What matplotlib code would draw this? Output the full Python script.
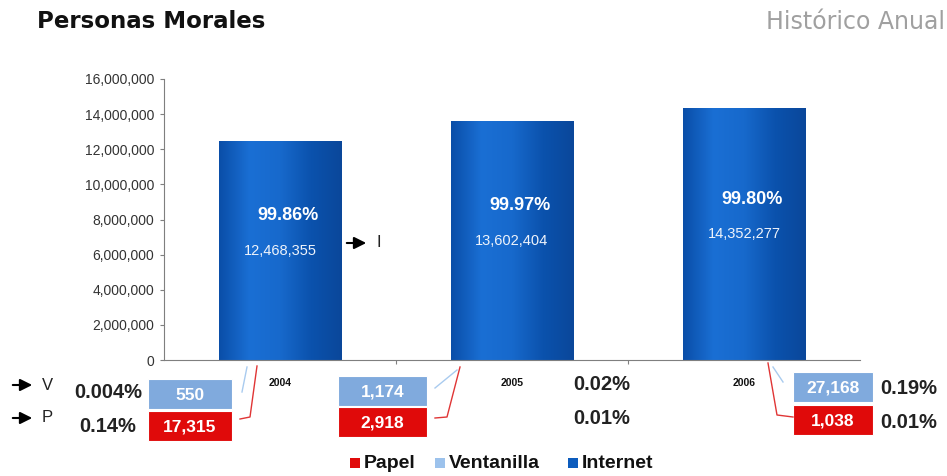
import numpy as np
import matplotlib
matplotlib.use('Agg')
import matplotlib.pyplot as plt
from matplotlib.patches import Rectangle, FancyArrowPatch
from matplotlib.colors import LinearSegmentedColormap
from matplotlib.lines import Line2D
from matplotlib.ticker import FuncFormatter

plt.rcParams['font.family'] = ['Liberation Sans', 'DejaVu Sans']

# datos por año
years = ['2004', '2005', '2006']
internet = [12468355, 13602404, 14352277]
ventanilla = [550, 1174, 27168]
papel = [17315, 2918, 1038]
pct_internet = ['99.86%', '99.97%', '99.80%']
pct_ventanilla = ['0.004%', '0.02%', '0.19%']
pct_papel = ['0.14%', '0.01%', '0.01%']

W, H = 947, 476
fig = plt.figure(figsize=(W / 100, H / 100), dpi=100)
fig.patch.set_facecolor('white')

def px(x, y):
    # pixeles (origen arriba a la izquierda) -> fraccion de figura
    return x / W, 1 - y / H

ax = fig.add_axes([164 / W, 1 - 360 / H, (860 - 164) / W, (360 - 79) / H])
x = np.arange(len(years))

# barras con degradado horizontal
blues = LinearSegmentedColormap.from_list('az', ['#0a4ea8', '#1a6fd4', '#1769cc', '#0b52ad', '#0a479a'])
grad = np.linspace(0, 1, 256).reshape(1, -1)
bars = ax.bar(x, internet, width=0.53, color='#0d5cbd', edgecolor='#6f9fdc', linewidth=0.6, zorder=2)
for b in bars:
    img = ax.imshow(grad, cmap=blues, aspect='auto', zorder=2.5,
                    extent=[b.get_x(), b.get_x() + b.get_width(), 0, b.get_height()])
    img.set_clip_path(b)
ax.set_xlim(-0.5, len(years) - 0.5)
ax.set_ylim(0, 16000000)

for i, b in enumerate(bars):
    cx = b.get_x() + b.get_width() / 2
    ax.annotate(f'{internet[i]:,}', (cx, internet[i] / 2), ha='center', va='center',
                color='#eef3fb', fontsize=10.5, zorder=4)
    ax.annotate(pct_internet[i], (cx, internet[i] / 2), xytext=(6, 25), textcoords='offset points',
                ha='center', va='center', color='white', fontsize=13, fontweight='bold', zorder=4)

# ejes
for s in ['top', 'right']:
    ax.spines[s].set_visible(False)
for s in ['left', 'bottom']:
    ax.spines[s].set_color('#7f7f7f')
    ax.spines[s].set_linewidth(0.8)
ax.set_yticks(np.arange(0, 16000001, 2000000))
ax.yaxis.set_major_formatter(FuncFormatter(lambda v, p: f'{int(v):,}'))
ax.tick_params(axis='y', labelsize=10, colors='#7f7f7f', labelcolor='#333333', length=3, width=0.8, pad=4)
ax.set_xticks(x)
ax.set_xticklabels(years, fontsize=7.5, fontweight='bold', color='#111111')
ax.tick_params(axis='x', length=0, pad=13)
ax.set_xticks([0.5, 1.5], minor=True)
ax.tick_params(axis='x', which='minor', length=3, width=0.8, color='#7f7f7f')

# cajas de ventanilla y papel
box_x = [148, 338, 793]
box_w = [84, 89, 80]
v_top = [379, 376, 372]
p_top = [411, 407, 405]
box_h = 30
for i in range(len(years)):
    for top, val, col in [(v_top[i], ventanilla[i], '#80aadd'), (p_top[i], papel[i], '#e00a0a')]:
        x0, y0 = px(box_x[i], top + box_h)
        fig.patches.append(Rectangle((x0, y0), box_w[i] / W, box_h / H, transform=fig.transFigure,
                                     facecolor=col, edgecolor='white', linewidth=0.8))
        tx, ty = px(box_x[i] + box_w[i] / 2, top + box_h / 2 + 1)
        fig.text(tx, ty, f'{val:,}', ha='center', va='center', color='white',
                 fontsize=12.5, fontweight='bold')

# porcentajes de ventanilla y papel
pct_pos_v = [(142, 393, 'right'), (573, 385, 'left'), (880, 389, 'left')]
pct_pos_p = [(136, 426, 'right'), (573, 418, 'left'), (880, 422, 'left')]
for i in range(len(years)):
    for (qx, qy, al), txt in [(pct_pos_v[i], pct_ventanilla[i]), (pct_pos_p[i], pct_papel[i])]:
        fx, fy = px(qx, qy)
        fig.text(fx, fy, txt, ha=al, va='center', color='#222222', fontsize=14.5, fontweight='bold')

# lineas guia
v_lines = [[(247, 367), (242, 392)], [(457, 370), (435, 388)], [(773, 367), (783, 382)]]
p_lines = [[(257, 366), (250, 417), (240, 419)], [(460, 367), (447, 417), (435, 418)],
           [(768, 363), (777, 415), (793, 417)]]
for pts, col in [(l, '#a9cbef') for l in v_lines] + [(l, '#e03535') for l in p_lines]:
    xs = [p[0] / W for p in pts]
    ys = [1 - p[1] / H for p in pts]
    fig.lines.append(Line2D(xs, ys, transform=fig.transFigure, color=col, linewidth=1.0))

# flechas V, P, I
for (ax0, ay0, lab) in [(10, 385, 'V'), (10, 418, 'P'), (344, 243, 'I')]:
    fig.add_artist(FancyArrowPatch(px(ax0, ay0), px(ax0 + 25, ay0),
                   transform=fig.transFigure, arrowstyle='-|>', mutation_scale=18,
                   color='black', linewidth=1.5))
    lx, ly = px(ax0 + 32, ay0)
    fig.text(lx, ly, lab, ha='left', va='center', fontsize=12, color='#222222')

# titulos
tx, ty = px(37, 21)
fig.text(tx, ty, 'Personas Morales', ha='left', va='center', fontsize=16.5,
         fontweight='bold', color='#111111', family=['DejaVu Sans'])
tx, ty = px(945, 22)
fig.text(tx, ty, 'Histórico Anual', ha='right', va='center', fontsize=17,
         color='#a0a0a0', family=['DejaVu Sans'])

# leyenda
legend_items = [('Papel', '#e00a0a', 350), ('Ventanilla', '#9cc2ec', 435), ('Internet', '#0d5cbd', 568)]
for lab, col, lx in legend_items:
    x0, y0 = px(lx, 468)
    fig.patches.append(Rectangle((x0, y0), 10 / W, 10 / H, transform=fig.transFigure,
                                 facecolor=col, edgecolor='none'))
    fx, fy = px(lx + 14, 463)
    fig.text(fx, fy, lab, ha='left', va='center', fontsize=14, fontweight='bold', color='#111111')

fig.savefig('out.png', dpi=100)
